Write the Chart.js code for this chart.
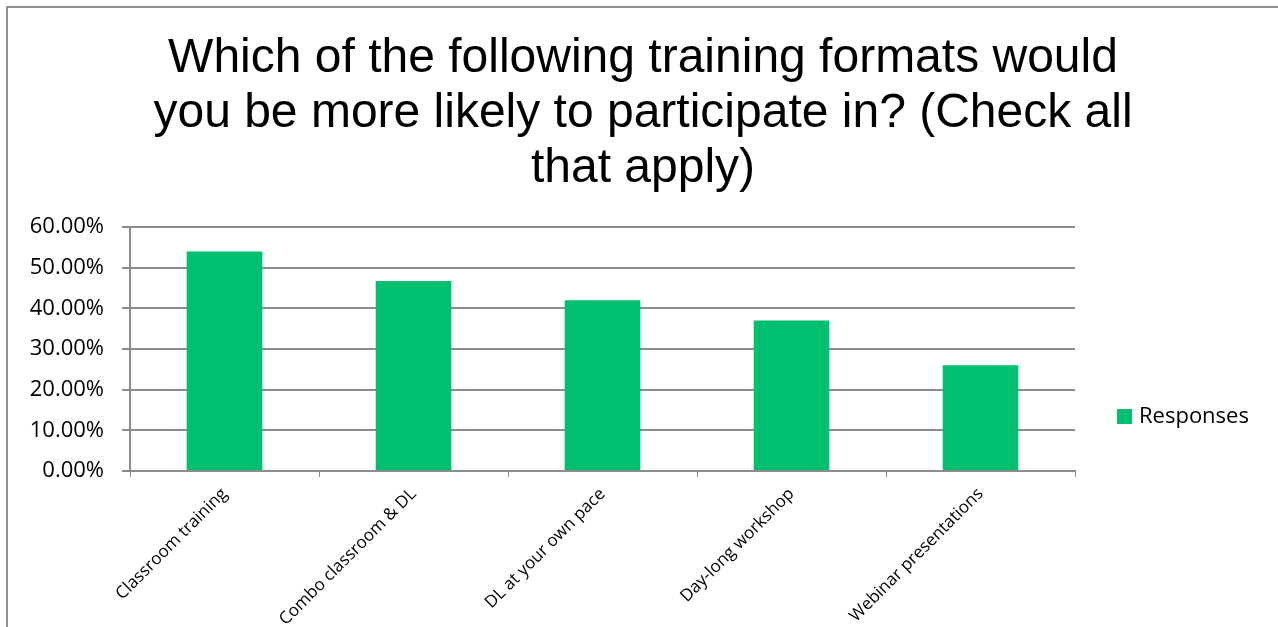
<!DOCTYPE html>
<html>
<head>
<meta charset="utf-8">
<script src="https://cdn.jsdelivr.net/npm/chart.js@4"></script>
<style>
  html, body { margin: 0; padding: 0; background: #fff; overflow: hidden; }
  #wrap { position: relative; width: 1278px; height: 627px; }
  #frame { position: absolute; left: 6px; top: 6px; width: 1400px; height: 800px; border: 2px solid #8f8f8f; box-sizing: border-box; pointer-events: none; }
  #legend { position: absolute; left: 1117px; top: 400px; font-family: "Open Sans", sans-serif; font-size: 22px; color: #000; line-height: 28px; white-space: nowrap; }
  #legend .sw { display: inline-block; width: 15px; height: 15px; background: #00BF6F; margin-right: 7px; vertical-align: -1px; }
  canvas { position: absolute; left: 0; top: 0; }
</style>
</head>
<body>
<div id="wrap">
  <canvas id="c" width="1278" height="627"></canvas>
  <div id="frame"></div>
  <div id="legend"><span class="sw"></span>Responses</div>
</div>
<script>
const titleLines = ["Which of the following training formats would", "you be more likely to participate in? (Check all", "that apply)"];
const categories = ["Classroom training", "Combo classroom & DL", "DL at your own pace", "Day-long workshop", "Webinar presentations"];
const seriesName = "Responses";
const responses = [54, 46.7, 42, 37, 26];
const yTicks = [0, 10, 20, 30, 40, 50, 60];

const gridColor = "#8c8c8c";

new Chart(document.getElementById("c"), {
  type: "bar",
  data: {
    labels: categories,
    datasets: [{
      label: seriesName,
      data: responses,
      backgroundColor: "#00BF6F",
      borderWidth: 0,
      barPercentage: 0.4,
      categoryPercentage: 1.0
    }]
  },
  options: {
    responsive: false,
    animation: false,
    layout: { padding: { left: 10, right: 2, top: 0, bottom: 0 } },
    plugins: {
      legend: { display: false },
      tooltip: { enabled: false },
      title: {
        display: true,
        text: titleLines,
        color: "#000",
        font: { family: "'Liberation Sans', Arial, sans-serif", size: 48, weight: "normal", lineHeight: 1.146 },
        padding: { top: 31, bottom: 31 },
        align: "center"
      }
    },
    scales: {
      x: {
        offset: true,
        grid: { display: true, drawOnChartArea: false, drawTicks: true, tickLength: 6, color: gridColor, offset: true },
        border: { display: true, color: gridColor, width: 2 },
        ticks: {
          color: "#000",
          font: { family: "'Open Sans', sans-serif", size: 17 },
          maxRotation: 45, minRotation: 45, autoSkip: false, padding: 7
        },
        afterFit: (s) => { s.height = 156; }
      },
      y: {
        min: 0, max: 60,
        afterBuildTicks: (s) => { s.ticks = yTicks.map(v => ({ value: v })); },
        grid: { color: gridColor, lineWidth: 2, drawTicks: true, tickLength: 8 },
        border: { display: true, color: gridColor, width: 2 },
        ticks: {
          color: "#000",
          font: { family: "'Open Sans', sans-serif", size: 22 },
          padding: 18,
          callback: (v) => v.toFixed(2) + "%"
        },
        afterFit: (s) => { s.width = 120; }
      },
      yRight: {
        type: "linear",
        position: "right",
        display: true,
        grid: { display: false, drawTicks: false },
        border: { display: false },
        ticks: { display: false },
        afterFit: (s) => { s.width = 201; }
      }
    }
  }
});
</script>
</body>
</html>
